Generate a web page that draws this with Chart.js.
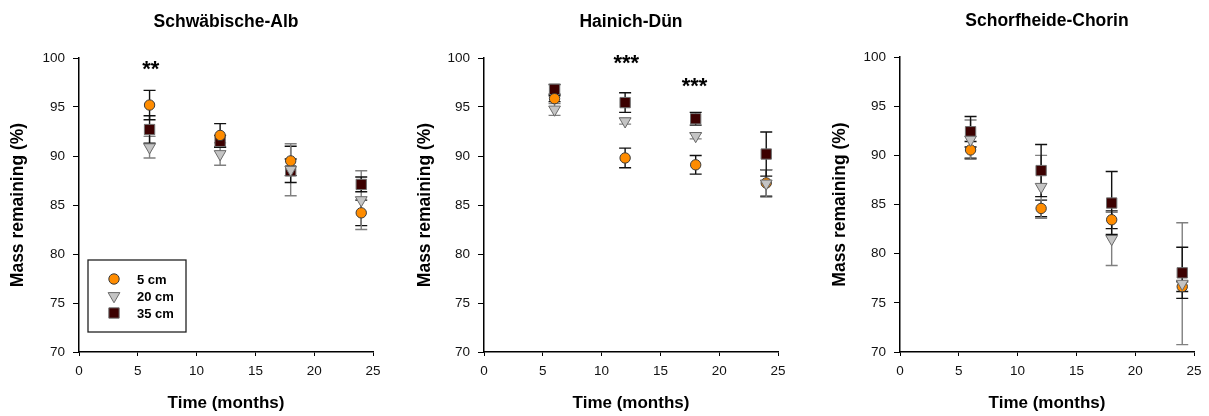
<!DOCTYPE html>
<html>
<head>
<meta charset="utf-8">
<script src="https://cdn.jsdelivr.net/npm/chart.js@4.4.1/dist/chart.umd.min.js"></script>
<style>
  body { margin: 0; background: #fff; }
  .panel { position: absolute; top: 0; }
</style>
</head>
<body>
<div class="panel" style="left:0px"><canvas id="alb" width="400" height="416"></canvas></div>
<div class="panel" style="left:407px"><canvas id="hai" width="400" height="416"></canvas></div>
<div class="panel" style="left:822px"><canvas id="sch" width="387" height="416"></canvas></div>
<script>
const FONT = "'Liberation Sans', Arial, sans-serif";

const months = [6, 12, 18, 24];
const depthLabels = ['5 cm', '20 cm', '35 cm'];
const siteTitles = ['Schwäbische-Alb', 'Hainich-Dün', 'Schorfheide-Chorin'];
const xTicks = [0, 5, 10, 15, 20, 25];
const yTicks = [70, 75, 80, 85, 90, 95, 100];

// Schwäbische-Alb
const alb5 = [95.2, 92.1, 89.5, 84.2];
const alb5Err = [1.5, 1.2, 1.5, 1.3];
const alb20 = [90.9, 90.2, 88.6, 85.5];
const alb20Err = [1.1, 1.15, 2.65, 3.0];
const alb35 = [92.7, 91.5, 88.5, 87.1];
const alb35Err = [1.4, 0.6, 1.2, 0.75];

// Hainich-Dün
const hai5 = [95.85, 89.8, 89.1, 87.25];
const hai5Err = [0.3, 1.0, 0.95, 1.35];
const hai20 = [94.75, 93.55, 92.05, 87.2];
const hai20Err = [0.6, 0.3, 0.3, 1.4];
const hai35 = [96.8, 95.45, 93.8, 90.2];
const hai35Err = [0.5, 1.0, 0.65, 2.25];

// Schorfheide-Chorin
const sch5 = [90.55, 84.6, 83.45, 76.65];
const sch5Err = [0.85, 0.85, 0.9, 0.5];
const sch20 = [91.6, 86.8, 81.5, 76.95];
const sch20Err = [2.0, 3.2, 2.7, 6.2];
const sch35 = [92.4, 88.45, 85.15, 78.05];
const sch35Err = [1.55, 2.65, 3.2, 2.6];

// significance marks
const albStarX = [6.1];
const albStarY = [99.3];
const albStarText = ['**'];
const haiStarX = [12.1, 17.9];
const haiStarY = [99.9, 97.6];
const haiStarText = ['***', '***'];

const styles = [
  { pointStyle: 'circle', radius: 5.2, rotation: 0, bg: '#FF8C00', border: '#3a3a3a', bar: '#111' },
  { pointStyle: 'triangle', radius: 6.8, rotation: 180, bg: '#C4C4C4', border: '#6a6a6a', bar: '#808080' },
  { pointStyle: 'rect', radius: 7.3, rotation: 0, bg: '#3C0000', border: '#707070', bar: '#111' }
];
const drawOrder = [2, 1, 3];

const errorBars = {
  id: 'errorBars',
  beforeDatasetsDraw(chart) {
    const { ctx, scales: { x, y } } = chart;
    ctx.save();
    chart.data.datasets.forEach((ds, i) => {
      ctx.strokeStyle = ds.barColor;
      ctx.lineWidth = 1.4;
      ds.data.forEach((p, j) => {
        const e = ds.errors[j];
        const px = x.getPixelForValue(p.x);
        const top = y.getPixelForValue(p.y + e);
        const bot = y.getPixelForValue(p.y - e);
        ctx.beginPath();
        ctx.moveTo(px, top); ctx.lineTo(px, bot);
        ctx.moveTo(px - 6, top); ctx.lineTo(px + 6, top);
        ctx.moveTo(px - 6, bot); ctx.lineTo(px + 6, bot);
        ctx.stroke();
      });
    });
    ctx.restore();
  }
};

const starMarks = {
  id: 'starMarks',
  afterDatasetsDraw(chart, args, opts) {
    if (!opts.text) return;
    const { ctx, scales: { x, y } } = chart;
    ctx.save();
    ctx.fillStyle = '#000';
    ctx.font = 'bold 22px ' + FONT;
    ctx.textAlign = 'center';
    ctx.textBaseline = 'middle';
    opts.text.forEach((t, i) => {
      ctx.fillText(t, x.getPixelForValue(opts.x[i]), y.getPixelForValue(opts.y[i]) + 5);
    });
    ctx.restore();
  }
};

const boxLegend = {
  id: 'boxLegend',
  afterDraw(chart, args, opts) {
    if (!opts.show) return;
    const { ctx, chartArea } = chart;
    const left = chartArea.left + 9, top = chartArea.top + 202;
    ctx.save();
    ctx.strokeStyle = '#222';
    ctx.lineWidth = 1.3;
    ctx.strokeRect(left, top, 98, 72);
    ctx.font = 'bold 13px ' + FONT;
    ctx.textBaseline = 'middle';
    ctx.textAlign = 'left';
    chart.data.datasets.forEach((ds, i) => {
      const cy = top + 19 + i * 17;
      const st = styles[i];
      ctx.fillStyle = st.bg;
      ctx.strokeStyle = st.border;
      ctx.lineWidth = 1;
      Chart.helpers.drawPoint(ctx, { pointStyle: st.pointStyle, radius: st.radius, rotation: st.rotation, borderWidth: 1 }, left + 26, cy);
      ctx.fillStyle = '#000';
      ctx.fillText(ds.label, left + 49, cy + 1);
    });
    ctx.restore();
  }
};

function makeChart(id, title, series, errs, axisW, padRight, padTop, stars, legend) {
  const datasets = series.map((vals, i) => ({
    label: depthLabels[i],
    data: months.map((m, j) => ({ x: m, y: vals[j] })),
    errors: errs[i],
    barColor: styles[i].bar,
    pointStyle: styles[i].pointStyle,
    pointRadius: styles[i].radius,
    pointRotation: styles[i].rotation,
    backgroundColor: styles[i].bg,
    borderColor: styles[i].border,
    borderWidth: 1,
    order: drawOrder[i]
  }));
  new Chart(document.getElementById(id), {
    type: 'scatter',
    data: { datasets },
    plugins: [errorBars, starMarks, boxLegend],
    options: {
      responsive: false,
      animation: false,
      layout: { padding: { left: 0, right: padRight, top: 0, bottom: 0 } },
      plugins: {
        legend: { display: false },
        tooltip: { enabled: false },
        title: {
          display: true,
          text: title,
          fullSize: false,
          color: '#000',
          font: { family: FONT, size: 17.5, weight: 'bold' },
          padding: { top: padTop, bottom: 25 }
        },
        starMarks: stars,
        boxLegend: { show: legend }
      },
      scales: {
        x: {
          type: 'linear',
          min: 0, max: 25,
          afterBuildTicks: s => { s.ticks = xTicks.map(v => ({ value: v })); },
          afterFit: s => { s.height = 64; },
          grid: { display: true, drawOnChartArea: false, drawTicks: true, tickLength: 4, color: '#000' },
          border: { display: true, color: '#000', width: 1.5 },
          ticks: { color: '#111', padding: 7, font: { family: FONT, size: 13.5 } },
          title: {
            display: true, text: 'Time (months)', color: '#000',
            font: { family: FONT, size: 17, weight: 'bold' },
            padding: { top: 4, bottom: 2 }
          }
        },
        y: {
          type: 'linear',
          min: 70, max: 100,
          afterBuildTicks: s => { s.ticks = yTicks.map(v => ({ value: v })); },
          afterFit: s => { s.width = axisW; },
          grid: { display: true, drawOnChartArea: false, drawTicks: true, tickLength: 6, color: '#000' },
          border: { display: true, color: '#000', width: 1.5 },
          ticks: { color: '#111', padding: 8, font: { family: FONT, size: 13.5 } },
          title: {
            display: true, text: 'Mass remaining (%)', color: '#000',
            font: { family: FONT, size: 17.5, weight: 'bold' },
            padding: { top: 8, bottom: 0 }
          }
        }
      }
    }
  });
}

makeChart('alb', siteTitles[0], [alb5, alb20, alb35], [alb5Err, alb20Err, alb35Err], 79, 27, 12,
  { x: albStarX, y: albStarY, text: albStarText }, true);
makeChart('hai', siteTitles[1], [hai5, hai20, hai35], [hai5Err, hai20Err, hai35Err], 77, 29, 12,
  { x: haiStarX, y: haiStarY, text: haiStarText }, false);
makeChart('sch', siteTitles[2], [sch5, sch20, sch35], [sch5Err, sch20Err, sch35Err], 78, 15, 11,
  {}, false);
</script>
</body>
</html>
